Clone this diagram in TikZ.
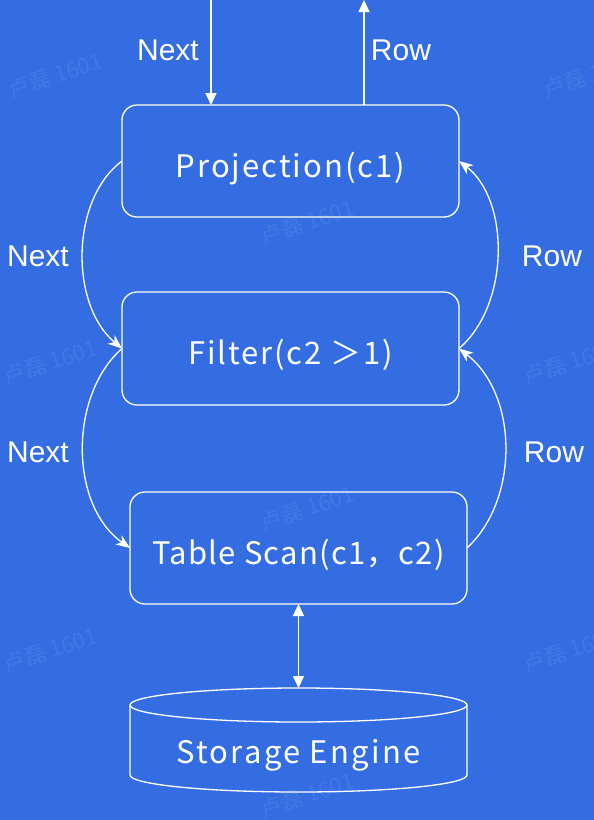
\documentclass[tikz,border=0pt]{standalone}
\usepackage{fontspec}
\setmainfont{Liberation Sans}
\newfontfamily\boxfont{Noto Sans CJK SC}[LetterSpace=4]
\newfontfamily\wmfont{Noto Sans CJK SC}
\usetikzlibrary{arrows.meta}
\definecolor{bgblue}{RGB}{52,109,226}
\begin{document}
\begin{tikzpicture}[x=1pt,y=-1pt,
  conn/.style={draw=white,line width=1.3pt},
  optip/.style={-{Triangle[length=12pt,width=11pt]}},
  curvetip/.style={-{Stealth[length=14pt,width=11pt,inset=4pt]}},
  opbox/.style={draw=white,line width=1.3pt,rounded corners=15pt,minimum width=337pt,inner sep=0pt,outer sep=0pt,text=white,text height=32pt,text depth=0pt,font=\boxfont\fontsize{31}{36}\selectfont},
  lbl/.style={text=white,font=\fontsize{30}{36}\selectfont,inner sep=0pt},
  wm/.style={text=white,opacity=0.07,font=\wmfont\fontsize{22}{26}\selectfont,rotate=18,inner sep=0pt}]
\fill[bgblue] (0,0) rectangle (594,820);
\useasboundingbox (0,0) rectangle (594,820);
% watermarks
\node[wm] (w1) at (55,75) {卢磊 1601};
\node[wm] (w2) at (590,75) {卢磊 1601};
\node[wm] (w3) at (307,222) {卢磊 1601};
\node[wm] (w4) at (50,362) {卢磊 1601};
\node[wm] (w5) at (570,362) {卢磊 1601};
\node[wm] (w6) at (307,508) {卢磊 1601};
\node[wm] (w7) at (50,650) {卢磊 1601};
\node[wm] (w8) at (570,650) {卢磊 1601};
\node[wm] (w9) at (307,795) {卢磊 1601};
% boxes
\node[opbox,minimum height=112pt] (proj) at (290.5,161) {\addfontfeature{LetterSpace=6.5}Projection(c1)};
\node[opbox,minimum height=113pt] (filt) at (290.5,348.5) {\addfontfeature{LetterSpace=6}Filter(c2 ＞1)};
\node[opbox,minimum height=112pt] (scan) at (298.5,548) {Table Scan(c1，c2)};
% storage engine cylinder
\coordinate (setop) at (298.5,688);
\draw[white,line width=1.3pt] (298.5,705) ellipse [x radius=168.5,y radius=17];
\draw[white,line width=1.3pt] (130,705) -- (130,775) arc[start angle=180,end angle=0,x radius=168.5,y radius=17] -- (467,705);
\node[text=white,font=\boxfont\fontsize{31}{36}\selectfont,inner sep=0pt,text height=32pt,text depth=0pt] (se) at (298.5,747) {\addfontfeature{LetterSpace=7.5}Storage Engine};
% top connectors
\coordinate (nin) at (211,0);
\coordinate (rout) at (364,0);
\draw[conn,optip] (nin) -- (nin |- proj.north);
\draw[conn,optip] (rout |- proj.north) -- (rout);
\node[lbl] (lnext0) at (168,50) {Next};
\node[lbl] (lrow0) at (401,50) {Row};
% next curves
\draw[conn,curvetip] (proj.west) .. controls (70,200) and (70,305) .. (filt.west);
\draw[conn,curvetip] (filt.west) .. controls (69,395) and (69,505) .. (scan.west);
% row curves
\draw[conn,curvetip] (scan.east) .. controls (519,500) and (519,395) .. (filt.east);
\draw[conn,curvetip] (filt.east) .. controls (510,305) and (510,200) .. (proj.east);
\node[lbl] (lnext1) at (38,256) {Next};
\node[lbl] (lnext2) at (38,452) {Next};
\node[lbl] (lrow1) at (552,256) {Row};
\node[lbl] (lrow2) at (554,452) {Row};
% storage link
\draw[conn,{Triangle[length=12pt,width=11pt]}-{Triangle[length=12pt,width=11pt]}] (scan.south) -- (setop);
\end{tikzpicture}
\end{document}
